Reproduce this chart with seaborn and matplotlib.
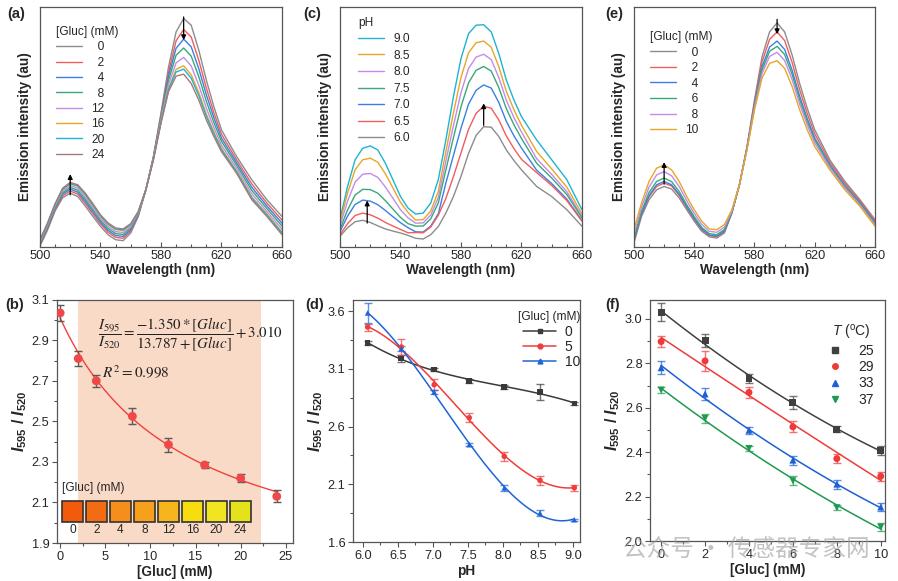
import numpy as np
import pandas as pd
import matplotlib
matplotlib.use("Agg")
import matplotlib.pyplot as plt
import seaborn as sns
from matplotlib.ticker import MultipleLocator, FormatStrFormatter, FixedLocator
from matplotlib.patches import Rectangle
from matplotlib.lines import Line2D

sns.set_theme(style="white")
plt.rcParams["font.family"] = ["Liberation Sans", "DejaVu Sans"]
plt.rcParams["mathtext.fontset"] = "custom"
plt.rcParams["mathtext.rm"] = "Liberation Sans"
plt.rcParams["mathtext.it"] = "Liberation Sans:italic"
plt.rcParams["mathtext.bf"] = "Liberation Sans:bold"
plt.rcParams["mathtext.bfit"] = "Liberation Sans:italic:bold"

# ---------------- data ----------------
wavelength = [500, 505, 510, 515, 520, 525, 530, 535, 540, 545, 550, 555, 560, 565,
              570, 575, 580, 585, 590, 595, 600, 605, 610, 615, 620, 630, 640, 650, 660]
spec_ticks = [500, 540, 580, 620, 660]

# (a) emission spectra vs [Gluc] (mM)
a_labels = ["0", "2", "4", "8", "12", "16", "20", "24"]
a_g0 = [0.3, 7, 15, 20.5, 22.4, 21, 17, 12.7, 8.6, 5.1, 3, 2.6, 5.8, 12.7, 23.8, 37.7, 55.7, 75, 89.6, 95.2, 92.4, 82, 69.5, 58.4, 48.8, 37.7, 28, 19.7, 12.7]
a_g2 = [0.8, 7.6, 15.6, 21.3, 23.3, 22.0, 18.1, 13.8, 9.6, 6.1, 4.0, 3.6, 6.6, 13.1, 23.8, 37.4, 54.9, 72.9, 85.9, 90.6, 87.5, 77.8, 66.2, 55.9, 47.0, 36.3, 26.3, 18.3, 11.2]
a_g4 = [1.1, 8.1, 16.1, 22.0, 24.1, 22.8, 19.0, 14.7, 10.4, 6.9, 4.8, 4.4, 7.2, 13.5, 23.8, 37.2, 54.1, 71.2, 82.8, 86.6, 83.4, 74.3, 63.4, 53.8, 45.4, 35.1, 24.9, 17.1, 9.9]
a_g8 = [1.6, 8.6, 16.6, 22.6, 24.8, 23.6, 19.9, 15.5, 11.1, 7.7, 5.6, 5.2, 7.9, 13.8, 23.8, 37.0, 53.5, 69.5, 79.9, 82.9, 79.5, 71.0, 60.7, 51.8, 44.0, 34.0, 23.6, 16.0, 8.7]
a_g12 = [2.1, 9.1, 17.1, 23.3, 25.6, 24.4, 20.8, 16.4, 12.0, 8.5, 6.4, 6.0, 8.5, 14.2, 23.8, 36.7, 52.8, 67.8, 76.7, 79.0, 75.4, 67.4, 57.9, 49.7, 42.4, 32.8, 22.2, 14.8, 7.4]
a_g16 = [2.6, 9.6, 17.6, 23.9, 26.2, 25.2, 21.6, 17.2, 12.7, 9.3, 7.2, 6.8, 9.1, 14.5, 23.8, 36.5, 52.1, 66.2, 74.0, 75.5, 71.7, 64.3, 55.4, 47.9, 41.1, 31.7, 20.9, 13.8, 6.2]
a_g20 = [2.7, 9.7, 17.7, 24.1, 26.5, 25.5, 21.9, 17.5, 13.0, 9.6, 7.5, 7.1, 9.3, 14.6, 23.8, 36.4, 51.9, 65.6, 72.9, 74.1, 70.3, 63.1, 54.4, 47.1, 40.5, 31.3, 20.4, 13.3, 5.8]
a_g24 = [3, 10, 18, 24.5, 26.9, 25.9, 22.4, 18, 13.4, 10, 7.9, 7.5, 9.7, 14.8, 23.8, 36.3, 51.5, 64.7, 71.2, 72, 68.1, 61.2, 52.9, 46, 39.7, 30.7, 19.7, 12.7, 5.1]

# (c) emission spectra vs pH
c_labels = ["9.0", "8.5", "8.0", "7.5", "7.0", "6.5", "6.0"]
c_p90 = [11.4, 25.2, 36.3, 41.1, 42.1, 40.4, 34.9, 28, 21, 16.2, 13.7, 14.1, 18.3, 28, 44.6, 62.6, 78.5, 88.9, 92.4, 92.6, 89.6, 80.6, 69.5, 61.2, 54.3, 44.6, 36.3, 28, 15.5]
c_p85 = [10.3, 22.4, 32.2, 36.3, 37.0, 35.3, 30.5, 24.6, 18.6, 14.4, 11.2, 11.4, 15.0, 23.1, 39.7, 55.9, 70.6, 80.9, 85.1, 85.8, 83.2, 75.1, 64.8, 57.2, 50.7, 39.8, 32.5, 24.9, 13.8]
c_p80 = [8.9, 19.0, 27.0, 30.3, 30.6, 29.0, 25.0, 20.3, 15.5, 12.1, 9.9, 10.0, 13.3, 20.6, 35.8, 50.5, 64.3, 74.4, 79.1, 80.3, 78.1, 70.6, 61.1, 53.9, 47.9, 36.8, 30.2, 23.0, 12.7]
c_p75 = [7.4, 15.4, 21.6, 24.0, 23.9, 22.4, 19.3, 15.8, 12.3, 9.7, 8.7, 8.7, 11.7, 18.3, 32.1, 45.5, 58.4, 68.4, 73.6, 75.2, 73.3, 66.4, 57.6, 50.9, 45.2, 34.9, 28.7, 21.8, 12.1]
c_p70 = [6.4, 12.8, 17.7, 19.5, 19.1, 17.6, 15.2, 12.6, 10.1, 8.0, 6.3, 6.2, 8.7, 13.8, 26.6, 38.1, 49.5, 59.5, 65.3, 67.5, 66.2, 60.2, 52.3, 46.3, 41.2, 32.0, 26.4, 19.9, 11.0]
c_p65 = [5.1, 9.7, 13.1, 14.1, 13.4, 12.0, 10.2, 8.7, 7.3, 5.9, 6.0, 5.9, 8.3, 13.2, 20.2, 29.3, 39.2, 49.0, 55.7, 58.6, 57.8, 52.9, 46.2, 41.0, 36.5, 31.0, 25.6, 19.3, 10.7]
c_p60 = [4.4, 8.0, 10.5, 11.1, 10.2, 8.8, 7.5, 6.6, 5.8, 4.8, 3.6, 3.3, 5.1, 8.5, 14.1, 21, 29.4, 39, 46.5, 50.1, 49.9, 46, 40.4, 36, 32.1, 25.2, 21, 15.5, 8.6]

# (e) emission spectra vs [Gluc] (mM)
e_labels = ["0", "2", "4", "6", "8", "10"]
e_g0 = [1.7, 12.7, 19.7, 23.8, 25.2, 24.1, 20.4, 15.5, 10.7, 6.5, 4.2, 3.7, 5.8, 14.1, 25.9, 41.8, 61.2, 79.2, 89.6, 93.4, 89.6, 79.9, 68.1, 57.8, 48.8, 36.3, 27.3, 19.7, 11.4]
e_g2 = [2.6, 13.6, 20.9, 25.2, 26.6, 25.4, 21.5, 16.4, 11.5, 7.2, 4.7, 4.3, 6.4, 14.3, 25.9, 41.5, 60.2, 77.1, 86.5, 89.6, 86.0, 76.8, 65.5, 55.6, 47.1, 35.3, 26.5, 19.0, 10.7]
e_g4 = [3.0, 14.0, 21.4, 25.9, 27.3, 25.9, 22.0, 16.8, 11.8, 7.5, 5.0, 4.5, 6.6, 14.4, 25.9, 41.1, 59.2, 75.0, 83.3, 85.8, 82.3, 73.6, 62.8, 53.5, 45.4, 34.3, 25.6, 18.4, 10.1]
e_g6 = [3.8, 14.9, 22.7, 27.3, 28.7, 27.2, 23.1, 17.6, 12.6, 8.1, 5.5, 5.1, 7.2, 14.6, 25.9, 40.9, 58.7, 73.7, 81.5, 83.6, 80.2, 71.8, 61.3, 52.2, 44.5, 33.7, 25.1, 18.0, 9.7]
e_g8 = [5.5, 16.6, 24.9, 30.0, 31.4, 29.6, 25.2, 19.3, 14.0, 9.4, 6.5, 6.1, 8.2, 15.1, 25.9, 40.7, 58.0, 72.3, 79.4, 81.1, 77.7, 69.7, 59.5, 50.8, 43.3, 33.0, 24.6, 17.5, 9.2]
e_g10 = [7.2, 18.3, 27.3, 32.8, 34.2, 32.1, 27.3, 21, 15.5, 10.7, 7.5, 7.2, 9.3, 15.5, 25.9, 40.4, 57.1, 70.4, 76.5, 77.6, 74.4, 66.8, 57.1, 48.8, 41.8, 32.1, 23.8, 16.9, 8.6]

# (b) ratio vs [Gluc]
b_gluc = [0, 2, 4, 8, 12, 16, 20, 24]
b_ratio = [3.035, 2.81, 2.70, 2.525, 2.385, 2.285, 2.22, 2.13]
b_err = [0.04, 0.035, 0.03, 0.04, 0.035, 0.015, 0.02, 0.03]
b_yticks = [1.9, 2.1, 2.3, 2.5, 2.7, 2.9, 3.1]
fit_a, fit_b, fit_c = -1.350, 13.787, 3.010
swatch_labels = ["0", "2", "4", "8", "12", "16", "20", "24"]
swatch_colors = ["#f25a0c", "#f36c14", "#f58e1a", "#f6a01c", "#f6b51c", "#f7dc10", "#f1e420", "#e4e21a"]

# (d) ratio vs pH
d_ph = [6.07, 6.55, 7.02, 7.52, 8.02, 8.53, 9.02]
d_yticks = [1.6, 2.1, 2.6, 3.1, 3.6]
d_labels = ["0", "5", "10"]
d_g0 = [3.323, 3.187, 3.092, 2.994, 2.942, 2.899, 2.798]
d_g0_err = [0.02, 0.03, 0.015, 0.02, 0.02, 0.07, 0.015]
d_g5 = [3.461, 3.288, 2.962, 2.676, 2.342, 2.134, 2.070]
d_g5_err = [0.03, 0.07, 0.05, 0.04, 0.04, 0.04, 0.025]
d_g10 = [3.583, 3.274, 2.899, 2.443, 2.068, 1.851, 1.793]
d_g10_err = [0.09, 0.02, 0.015, 0.015, 0.025, 0.03, 0.01]

# (f) ratio vs [Gluc] at temperatures
f_gluc = [0, 2, 4, 6, 8, 10]
f_labels = ["25", "29", "33", "37"]
f_t25 = [3.030, 2.902, 2.732, 2.624, 2.504, 2.406]
f_t25_err = [0.04, 0.03, 0.02, 0.03, 0.015, 0.02]
f_t29 = [2.898, 2.811, 2.669, 2.514, 2.371, 2.292]
f_t29_err = [0.025, 0.045, 0.025, 0.025, 0.02, 0.02]
f_t33 = [2.780, 2.662, 2.499, 2.364, 2.256, 2.153]
f_t33_err = [0.03, 0.025, 0.015, 0.02, 0.02, 0.02]
f_t37 = [2.680, 2.552, 2.417, 2.271, 2.150, 2.063]
f_t37_err = [0.015, 0.02, 0.01, 0.02, 0.01, 0.02]

# ---------------- styling ----------------
spec_colors = ["#8c8c8c", "#f25c5c", "#3d7fe0", "#3aa876", "#c28ce8", "#e8a628", "#1cb4d2", "#a87878"]
FS_TICK = 9.2
FS_LEG = 8.6
FS_LAB = 9.8
FS_RATIO = 11.5
SPINE = "#555555"

fig = plt.figure(figsize=(8.98, 5.81), dpi=100)


def style_axes(ax, inside):
    for s in ax.spines.values():
        s.set_color(SPINE)
        s.set_linewidth(0.9)
    ax.tick_params(which="both", direction="in" if inside else "out",
                   color=SPINE, labelsize=FS_TICK, width=0.8,
                   bottom=True, left=not inside, top=False, right=False, pad=2)
    ax.tick_params(which="major", length=3.5)
    ax.tick_params(which="minor", length=2)


def pad_label(lab):
    return "\u2007" * max(0, 2 - len(lab)) + lab


def spectra_panel(rect, series, labels, colors, title, legend_anchor, arrows, lspace):
    ax = fig.add_axes(rect)
    for vals, lab, col in zip(series, labels, colors):
        sns.lineplot(x=wavelength, y=vals, ax=ax, color=col, lw=1.0, label=pad_label(lab))
    ax.set_xlim(500, 660)
    ax.set_ylim(0, 100)
    ax.set_yticks([])
    ax.xaxis.set_major_locator(FixedLocator(spec_ticks))
    ax.xaxis.set_minor_locator(MultipleLocator(10))
    style_axes(ax, inside=True)
    ax.set_xlabel("Wavelength (nm)", fontsize=FS_LAB, fontweight="bold", labelpad=1)
    ax.set_ylabel("Emission intensity (au)", fontsize=FS_LAB, fontweight="bold", labelpad=6)
    ax.legend(title=title, loc="upper left", bbox_to_anchor=legend_anchor, frameon=False,
              fontsize=FS_LEG, title_fontsize=FS_LEG, handlelength=2.2,
              labelspacing=lspace, handletextpad=0.8, borderpad=0.2, alignment="left")
    for (xa, y0, y1) in arrows:
        ax.annotate("", xy=(xa, y1), xytext=(xa, y0),
                    arrowprops=dict(arrowstyle="-|>", color="black", lw=0.9, mutation_scale=7))
    return ax


# (a)
spectra_panel([0.0445, 0.575, 0.2695, 0.413],
              [a_g0, a_g2, a_g4, a_g8, a_g12, a_g16, a_g20, a_g24],
              a_labels, spec_colors, "[Gluc] (mM)", (0.03, 0.955),
              [(520, 20.5, 31.5), (595, 97, 85)], 0.28)
# (c)
c_colors = ["#1cb4d2", "#e8a628", "#c28ce8", "#3aa876", "#3d7fe0", "#f25c5c", "#8c8c8c"]
spectra_panel([0.3786, 0.575, 0.2695, 0.413],
              [c_p90, c_p85, c_p80, c_p75, c_p70, c_p65, c_p60],
              c_labels, c_colors, "pH", (0.04, 0.995),
              [(518, 8.8, 20.5), (595, 49.5, 61)], 0.38)
# (e)
spectra_panel([0.706, 0.575, 0.2684, 0.413],
              [e_g0, e_g2, e_g4, e_g6, e_g8, e_g10],
              e_labels, spec_colors[:6], "[Gluc] (mM)", (0.03, 0.935),
              [(520, 25, 36.5), (595, 96, 87.5)], 0.3)

ratio_label = r"$\mathbfit{I}_{\mathbf{595}}$ / $\mathbfit{I}_{\mathbf{520}}$"

# (b)
ax_b = fig.add_axes([0.0635, 0.0654, 0.2628, 0.4186])
ax_b.axvspan(2.0, 22.2, color="#f9dac6", lw=0, zorder=0)
xf = np.linspace(0, 24, 200)
yf = fit_a * xf / (fit_b + xf) + fit_c
ax_b.plot(xf, yf, color="#f04040", lw=1.0, zorder=2)
ax_b.errorbar(b_gluc, b_ratio, yerr=b_err, fmt="none", ecolor="#5a5a5a", elinewidth=1, capsize=3, zorder=3)
sns.scatterplot(x=b_gluc, y=b_ratio, ax=ax_b, color="#f04848", s=40, edgecolor="none", zorder=4)
ax_b.set_xlim(-0.35, 25.8)
ax_b.set_ylim(1.9, 3.1)
ax_b.xaxis.set_major_locator(MultipleLocator(5))
ax_b.xaxis.set_minor_locator(MultipleLocator(2.5))
ax_b.yaxis.set_major_locator(FixedLocator(b_yticks))
ax_b.yaxis.set_minor_locator(MultipleLocator(0.1))
ax_b.yaxis.set_major_formatter(FormatStrFormatter("%.1f"))
style_axes(ax_b, inside=False)
ax_b.set_xlabel("[Gluc] (mM)", fontsize=FS_LAB, fontweight="bold", labelpad=2)
ax_b.set_ylabel(ratio_label, fontsize=FS_RATIO, fontweight="bold", labelpad=2)
ax_b.text(0.565, 0.856, r"$\dfrac{I_{595}}{I_{520}}=\dfrac{-1.350*[Gluc]}{13.787+[Gluc]}+3.010$",
          transform=ax_b.transAxes, ha="center", va="center", fontsize=10.8, math_fontfamily="stix", color="#222222")
ax_b.text(0.19, 0.70, r"$R^2=0.998$", transform=ax_b.transAxes, ha="left", va="center",
          fontsize=11, math_fontfamily="stix", color="#222222")
ax_b.text(0.021, 0.226, "[Gluc] (mM)", transform=ax_b.transAxes, ha="left", va="center", fontsize=FS_LEG)
for i, (col, lab) in enumerate(zip(swatch_colors, swatch_labels)):
    x0 = (5 + 24 * i) / 236
    ax_b.add_patch(Rectangle((x0, 0.0877), 0.0877, 0.0864, transform=ax_b.transAxes,
                             facecolor=col, edgecolor="#333333", lw=1.2, zorder=5))
    ax_b.text(x0 + 0.0438, 0.052, lab, transform=ax_b.transAxes, ha="center", va="center", fontsize=FS_LEG)

# (d)
ax_d = fig.add_axes([0.393, 0.0671, 0.2528, 0.4165])
d_colors = ["#3a3a3a", "#f03c3c", "#1f64d8"]
d_markers = ["s", "o", "^"]
handles = []
for vals, errs, col, mk, lab in zip([d_g0, d_g5, d_g10], [d_g0_err, d_g5_err, d_g10_err], d_colors, d_markers, d_labels):
    sns.regplot(x=d_ph, y=vals, ax=ax_d, order=3, ci=None, scatter=False, truncate=True,
                line_kws=dict(color=col, lw=1.1))
    ax_d.errorbar(d_ph, vals, yerr=errs, fmt="none", ecolor=col, alpha=0.7, elinewidth=1, capsize=3)
    sns.scatterplot(x=d_ph, y=vals, ax=ax_d, color=col, marker=mk, s=16, edgecolor="none", zorder=4)
    handles.append(Line2D([], [], color=col, marker=mk, markersize=3.5, lw=1.1, label=lab))
ax_d.set_xlim(5.86, 9.1)
ax_d.set_ylim(1.6, 3.695)
ax_d.xaxis.set_major_locator(MultipleLocator(0.5))
ax_d.xaxis.set_minor_locator(MultipleLocator(0.25))
ax_d.yaxis.set_major_locator(FixedLocator(d_yticks))
ax_d.yaxis.set_minor_locator(FixedLocator([1.85, 2.35, 2.85, 3.35]))
ax_d.xaxis.set_major_formatter(FormatStrFormatter("%.1f"))
ax_d.yaxis.set_major_formatter(FormatStrFormatter("%.1f"))
style_axes(ax_d, inside=False)
ax_d.set_xlabel("pH", fontsize=FS_LAB, fontweight="bold", labelpad=2)
ax_d.set_ylabel(ratio_label, fontsize=FS_RATIO, fontweight="bold", labelpad=2)
ax_d.legend(handles=handles, title="[Gluc] (mM)", loc="upper right", bbox_to_anchor=(1.05, 1.0),
            frameon=False, fontsize=FS_TICK + 0.8, title_fontsize=FS_LEG, handlelength=2.4,
            labelspacing=0.1, handletextpad=0.6, borderpad=0.3, alignment="right")

# (f)
ax_f = fig.add_axes([0.724, 0.0688, 0.2617, 0.4148])
f_colors = ["#404040", "#f03a3a", "#1c5fd6", "#1e9a50"]
f_markers = ["s", "o", "^", "v"]
handles = []
for vals, errs, col, mk, lab in zip([f_t25, f_t29, f_t33, f_t37], [f_t25_err, f_t29_err, f_t33_err, f_t37_err],
                                    f_colors, f_markers, f_labels):
    sns.regplot(x=f_gluc, y=vals, ax=ax_f, order=2, ci=None, scatter=False, truncate=True,
                line_kws=dict(color=col, lw=1.1))
    ax_f.errorbar(f_gluc, vals, yerr=errs, fmt="none", ecolor=col, alpha=0.7, elinewidth=1, capsize=3)
    sns.scatterplot(x=f_gluc, y=vals, ax=ax_f, color=col, marker=mk, s=25, edgecolor="none", zorder=4)
    handles.append(Line2D([], [], color=col, marker=mk, markersize=4, lw=0, label=lab))
ax_f.set_xlim(-0.5, 10.2)
ax_f.set_ylim(2.0, 3.085)
ax_f.xaxis.set_major_locator(MultipleLocator(2))
ax_f.xaxis.set_minor_locator(MultipleLocator(1))
ax_f.yaxis.set_major_locator(MultipleLocator(0.2))
ax_f.yaxis.set_minor_locator(MultipleLocator(0.1))
ax_f.yaxis.set_major_formatter(FormatStrFormatter("%.1f"))
style_axes(ax_f, inside=False)
ax_f.set_xlabel("[Gluc] (mM)", fontsize=FS_LAB, fontweight="bold", labelpad=2)
ax_f.set_ylabel(ratio_label, fontsize=FS_RATIO, fontweight="bold", labelpad=2)
ax_f.legend(handles=handles, title=r"$T$ ($^{\rm o}$C)", loc="upper right", bbox_to_anchor=(1.0, 0.95),
            frameon=False, fontsize=FS_TICK + 0.8, title_fontsize=FS_TICK + 0.8, handlelength=1.0,
            labelspacing=0.15, handletextpad=1.2, borderpad=0.3, alignment="center")

# panel labels
for lab, xp, yp in [("(a)", 7, 14), ("(c)", 303, 14), ("(e)", 605, 14),
                    ("(b)", 5, 305), ("(d)", 305, 305), ("(f)", 605, 305)]:
    fig.text(xp / 898, 1 - yp / 581, lab, fontsize=10.5, fontweight="bold", ha="left", va="center")

# watermark (present in the reference image)
fig.text(0.694, 0.053, "公众号 · 传感器专家网", fontsize=17, color="#9a9a9a", alpha=0.6,
         family=["Noto Sans CJK SC", "DejaVu Sans"], ha="left", va="center")

fig.savefig("out.png", dpi=100)
